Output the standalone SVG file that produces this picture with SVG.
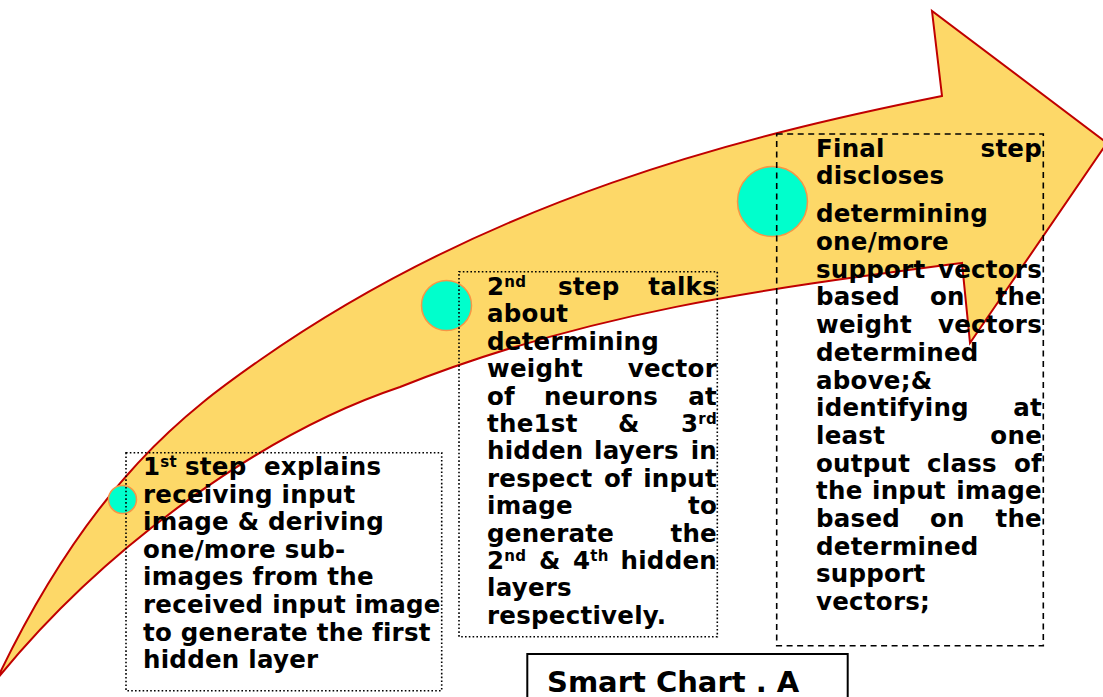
<svg xmlns="http://www.w3.org/2000/svg" width="1103" height="697" viewBox="0 0 1103 697">
<style>
.t{font-family:"DejaVu Sans",Verdana,sans-serif;font-weight:bold;font-size:24.5px;letter-spacing:0.25px;fill:#000}
.r{text-anchor:end}
.sup{font-size:15px}
.dot{fill:none;stroke:#000;stroke-width:1.6;stroke-dasharray:1.6 2.2}
.dash{fill:none;stroke:#000;stroke-width:1.6;stroke-dasharray:6 4.5}
.c{fill:#00FFCC;stroke:#F79646;stroke-width:1.5}
</style>
<rect width="1103" height="697" fill="#fff"/>
<g id="connectors">
<path d="M -3 679 C 92 479.5, 190 409, 260 360 C 490 199, 742 136, 942 96 L 932 11 L 1107 143 L 970 343 L 962 263 C 772 288, 590 311, 400 387 C 265 432, 106 545, -3 679 Z" fill="#FDD868" stroke="#C00000" stroke-width="2" stroke-linejoin="miter"/>
</g>
<g id="step1">
<circle class="c" cx="122.5" cy="499.5" r="14"/>
<rect class="dot" x="126" y="452.7" width="315.7" height="238"/>
<text class="t" x="143" y="475">1<tspan class="sup" dy="-8">st</tspan></text>
<text class="t" x="185" y="475">step</text>
<text class="t" x="264" y="475">explains</text>
<text class="t" x="143" y="502.6">receiving input</text>
<text class="t" x="143" y="530.2">image &amp; deriving</text>
<text class="t" x="143" y="557.8">one/more sub-</text>
<text class="t" x="143" y="585.4">images from the</text>
<text class="t" x="143" y="613">received input image</text>
<text class="t" x="143" y="640.6">to generate the first</text>
<text class="t" x="143" y="668.2">hidden layer</text>
</g>
<g id="step2">
<circle class="c" cx="446.5" cy="305.5" r="25"/>
<rect class="dot" x="459" y="271.7" width="258.3" height="365"/>
<text class="t" x="487" y="295">2<tspan class="sup" dy="-8">nd</tspan></text>
<text class="t" x="558" y="295">step</text>
<text class="t r" x="717" y="295">talks</text>
<text class="t" x="487" y="322.4">about</text>
<text class="t" x="487" y="349.8">determining</text>
<text class="t" x="487" y="377.2">weight</text>
<text class="t r" x="717" y="377.2">vector</text>
<text class="t" x="487" y="404.6">of</text>
<text class="t" x="544" y="404.6">neurons</text>
<text class="t r" x="717" y="404.6">at</text>
<text class="t" x="487" y="432">the1st</text>
<text class="t" x="618" y="432">&amp;</text>
<text class="t r" x="717" y="432">3<tspan class="sup" dy="-8">rd</tspan></text>
<text class="t" x="487" y="459.4">hidden</text>
<text class="t" x="594" y="459.4">layers</text>
<text class="t r" x="717" y="459.4">in</text>
<text class="t" x="487" y="486.8">respect</text>
<text class="t" x="604" y="486.8">of</text>
<text class="t r" x="717" y="486.8">input</text>
<text class="t" x="487" y="514.2">image</text>
<text class="t r" x="717" y="514.2">to</text>
<text class="t" x="487" y="541.6">generate</text>
<text class="t r" x="717" y="541.6">the</text>
<text class="t" x="487" y="569">2<tspan class="sup" dy="-8">nd</tspan></text>
<text class="t" x="539" y="569">&amp;</text>
<text class="t" x="573" y="569">4<tspan class="sup" dy="-8">th</tspan></text>
<text class="t r" x="717" y="569">hidden</text>
<text class="t" x="487" y="596.4">layers</text>
<text class="t" x="487" y="623.8">respectively.</text>
</g>
<g id="step3">
<circle class="c" cx="772.5" cy="201.5" r="35"/>
<rect class="dash" x="776.7" y="134" width="266.6" height="511.7"/>
<text class="t" x="816" y="156.7">Final</text>
<text class="t r" x="1042" y="156.7">step</text>
<text class="t" x="816" y="184.3">discloses</text>
<text class="t" x="816" y="222.3">determining</text>
<text class="t" x="816" y="250">one/more</text>
<text class="t" x="816" y="277.7">support</text>
<text class="t r" x="1042" y="277.7">vectors</text>
<text class="t" x="816" y="305.4">based</text>
<text class="t" x="930" y="305.4">on</text>
<text class="t r" x="1042" y="305.4">the</text>
<text class="t" x="816" y="333.1">weight</text>
<text class="t r" x="1042" y="333.1">vectors</text>
<text class="t" x="816" y="360.8">determined</text>
<text class="t" x="816" y="388.5">above;&amp;</text>
<text class="t" x="816" y="416.2">identifying</text>
<text class="t r" x="1042" y="416.2">at</text>
<text class="t" x="816" y="443.9">least</text>
<text class="t r" x="1042" y="443.9">one</text>
<text class="t" x="816" y="471.6">output</text>
<text class="t" x="927" y="471.6">class</text>
<text class="t r" x="1042" y="471.6">of</text>
<text class="t" x="816" y="499.3">the</text>
<text class="t" x="872" y="499.3">input</text>
<text class="t r" x="1042" y="499.3">image</text>
<text class="t" x="816" y="527">based</text>
<text class="t" x="930" y="527">on</text>
<text class="t r" x="1042" y="527">the</text>
<text class="t" x="816" y="554.7">determined</text>
<text class="t" x="816" y="582.4">support</text>
<text class="t" x="816" y="610.1">vectors;</text>
</g>
<g id="label">
<rect x="527.3" y="654" width="320.4" height="60" fill="#fff" stroke="#000" stroke-width="2"/>
<text x="547" y="692" style="font-family:'DejaVu Sans',Verdana,sans-serif;font-weight:bold;font-size:29px;fill:#000">Smart Chart . A</text>
</g>
</svg>
